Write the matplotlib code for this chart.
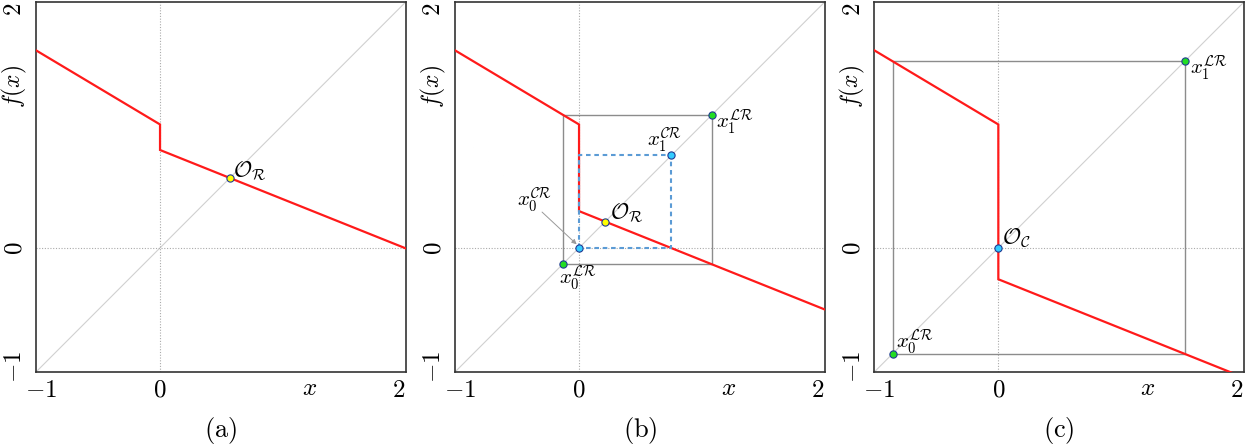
import matplotlib
matplotlib.use("Agg")
import matplotlib.pyplot as plt
from matplotlib.transforms import blended_transform_factory

plt.rcParams['mathtext.fontset'] = 'cm'
plt.rcParams['font.family'] = ['DejaVu Serif']

# ---- data ----
lims = (-1.04, 2.06)
xticks = [-1, 0, 2]
yticks = [-1, 0, 2]
tick_labels = [r'$-1$', r'$0$', r'$2$']
panel_labels = [r'$\mathrm{(a)}$', r'$\mathrm{(b)}$', r'$\mathrm{(c)}$']

left_branch_x = [-1.04, 0.0]
left_branch_y = [1.655, 1.034]
right_branch_x = [0.0, 2.06]
right_branch_y_a = [0.82, -0.004]
right_branch_y_b = [0.308, -0.516]
right_branch_y_c = [-0.263, -1.087]

fixed_a = 0.586
fixed_b = 0.22
fixed_c = 0.0
cycle_lr_b = [-0.138, 1.117]
cycle_cr_b = [0.0, 0.775]
cycle_lr_c = [-0.887, 1.566]

RED = '#ff1a1a'
GRAY_BOX = '#8c8c8c'
BLUE_D = '#5b9bd5'
YEL = '#ffff00'
CYAN = '#33ccff'
GREEN = '#22dd22'
EDGE = '#1f3a93'

W, H = 1255, 448
fig = plt.figure(figsize=(W / 100, H / 100), dpi=100)
lefts = [36, 455, 874.3]
ax_w = 369.7
top_px, bot_px = 2, 372
axes = []
for l in lefts:
    ax = fig.add_axes([l / W, 1 - bot_px / H, ax_w / W, (bot_px - top_px) / H])
    axes.append(ax)

def px2pt(v):
    return v * 72 / 100.0

def base(ax, label, right_y):
    ax.set_xlim(lims)
    ax.set_ylim(lims)
    ax.plot(lims, lims, color='#d0d0d0', lw=0.8, zorder=1)
    ax.axhline(0, color='#aaaaaa', lw=0.8, ls=(0, (1, 1.5)), zorder=1)
    ax.axvline(0, color='#aaaaaa', lw=0.8, ls=(0, (1, 1.5)), zorder=1)
    xs = left_branch_x + right_branch_x
    ys = left_branch_y + right_y
    ax.plot(xs, ys, color=RED, lw=1.6, zorder=4, solid_joinstyle='miter')
    ax.set_xticks(xticks)
    ax.set_xticklabels(tick_labels, fontsize=18)
    ax.set_yticks(yticks)
    ax.set_yticklabels(tick_labels, fontsize=18, rotation=90, va='center')
    ax.tick_params(length=0, pad=5)
    ax.tick_params(axis='y', pad=7)
    for s in ax.spines.values():
        s.set_color('#333333')
        s.set_linewidth(1.2)
    ax.text(0.5, -0.157, label, transform=ax.transAxes, ha='center', va='center', fontsize=19)
    tx = blended_transform_factory(ax.transData, ax.transAxes)
    ax.text(1.25, -0.045, r'$x$', transform=tx, ha='center', va='center', fontsize=18)
    ty = blended_transform_factory(ax.transAxes, ax.transData)
    ax.text(-0.058, 1.35, r'$f(x)$', transform=ty, ha='center', va='center', fontsize=17, rotation=90)

def pt(ax, x, c, z=6):
    ax.plot([x], [x], 'o', ms=5.2, mfc=c, mec=EDGE, mew=0.8, zorder=z, clip_on=False)

def lab(ax, x, y, s, dx, dy, ha='left', fs=16):
    ax.annotate(s, (x, y), xytext=(px2pt(dx), px2pt(dy)), textcoords='offset points',
                ha=ha, va='baseline', fontsize=fs, zorder=7)

def box(ax, a, b, **kw):
    ax.plot([a, a, b, b, a], [a, b, b, a, a], **kw)

# (a)
ax = axes[0]
base(ax, panel_labels[0], right_branch_y_a)
pt(ax, fixed_a, YEL)
lab(ax, fixed_a, fixed_a, r'$\mathcal{O}_{\mathcal{R}}$', 3, 1)

# (b)
ax = axes[1]
base(ax, panel_labels[1], right_branch_y_b)
box(ax, cycle_lr_b[0], cycle_lr_b[1], color=GRAY_BOX, lw=1.0, zorder=2)
box(ax, cycle_cr_b[0], cycle_cr_b[1], color=BLUE_D, lw=1.5, ls=(0, (2.2, 1.8)), zorder=5)
pt(ax, fixed_b, YEL)
pt(ax, cycle_lr_b[0], GREEN)
pt(ax, cycle_lr_b[1], GREEN)
pt(ax, cycle_cr_b[0], CYAN)
pt(ax, cycle_cr_b[1], CYAN)
lab(ax, fixed_b, fixed_b, r'$\mathcal{O}_{\mathcal{R}}$', 5, 2)
lab(ax, cycle_lr_b[1], cycle_lr_b[1], r'$x_1^{\mathcal{LR}}$', 4, -14, fs=15)
lab(ax, cycle_cr_b[1], cycle_cr_b[1], r'$x_1^{\mathcal{CR}}$', 11, 9, ha='right', fs=15)
lab(ax, cycle_lr_b[0], cycle_lr_b[0], r'$x_0^{\mathcal{LR}}$', -4, -20, fs=15)
ax.text(-0.52, 0.35, r'$x_0^{\mathcal{CR}}$', ha='left', va='baseline', fontsize=15)
ax.annotate('', xy=(-0.02, 0.03), xytext=(-0.31, 0.30),
            arrowprops=dict(arrowstyle='-|>', color='#999999', lw=0.7,
                            mutation_scale=7, shrinkA=0, shrinkB=0))

# (c)
ax = axes[2]
base(ax, panel_labels[2], right_branch_y_c)
box(ax, cycle_lr_c[0], cycle_lr_c[1], color=GRAY_BOX, lw=1.0, zorder=2)
pt(ax, fixed_c, CYAN)
pt(ax, cycle_lr_c[0], GREEN)
pt(ax, cycle_lr_c[1], GREEN)
lab(ax, fixed_c, fixed_c, r'$\mathcal{O}_{\mathcal{C}}$', 4, 4)
lab(ax, cycle_lr_c[0], cycle_lr_c[0], r'$x_0^{\mathcal{LR}}$', 3, 6, fs=15)
lab(ax, cycle_lr_c[1], cycle_lr_c[1], r'$x_1^{\mathcal{LR}}$', 5, -13, fs=15)

fig.savefig('out.png', dpi=100)
